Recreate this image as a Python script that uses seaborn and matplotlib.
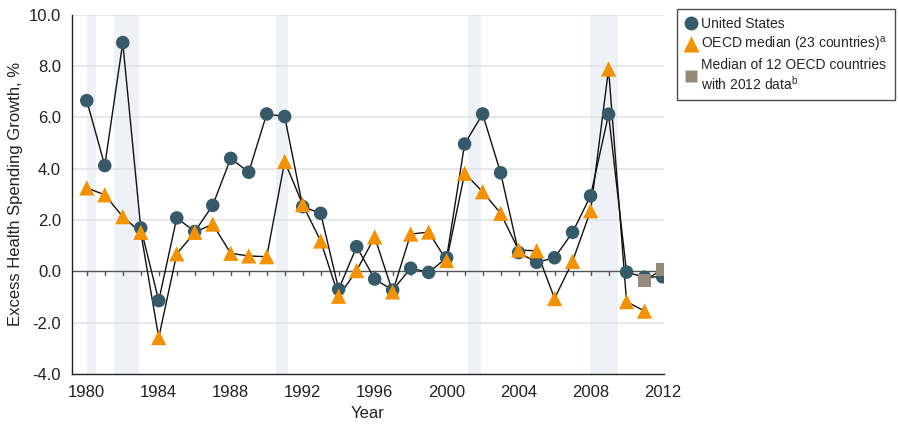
import numpy as np
import pandas as pd
import matplotlib
matplotlib.use("Agg")
import matplotlib.pyplot as plt
from matplotlib.lines import Line2D
import seaborn as sns

years = list(range(1980, 2013))
us = [6.65, 4.12, 8.91, 1.69, -1.14, 2.08, 1.55, 2.57, 4.4, 3.86,
      6.13, 6.03, 2.52, 2.26, -0.7, 0.96, -0.3, -0.73, 0.12, -0.04,
      0.53, 4.96, 6.13, 3.84, 0.73, 0.35, 0.53, 1.52, 2.94, 6.12,
      -0.03, -0.23, -0.21]
oecd_years = list(range(1980, 2012))
oecd = [3.25, 2.98, 2.13, 1.52, -2.58, 0.68, 1.52, 1.84, 0.7, 0.6,
        0.57, 4.28, 2.6, 1.18, -0.97, 0.03, 1.34, -0.8, 1.45, 1.53,
        0.42, 3.82, 3.1, 2.26, 0.83, 0.8, -1.06, 0.39, 2.36, 7.88,
        -1.18, -1.55]
sub_years = [2011, 2012]
sub12 = [-0.36, 0.08]

# recession periods (start, end) in fractional years
recessions = [(1980.0, 1980.5), (1981.5, 1982.9), (1990.5, 1991.2),
              (2001.2, 2001.9), (2007.95, 2009.5)]

c_us = "#365a69"
c_oecd = "#f39200"
c_sub = "#968b7a"

sns.set_style("white")
plt.rcParams["font.family"] = ["Liberation Sans", "DejaVu Sans"]
plt.rcParams["mathtext.default"] = "regular"

df_us = pd.DataFrame({"year": years, "val": us})
df_oecd = pd.DataFrame({"year": oecd_years, "val": oecd})
df_sub = pd.DataFrame({"year": sub_years, "val": sub12})

fig = plt.figure(figsize=(8.98, 4.26), dpi=100)
ax = fig.add_axes([0.0802, 0.122, 0.659, 0.8437])

for s, e in recessions:
    ax.axvspan(s, e, color="#eef1f5", lw=0, zorder=0)
for yv in [-2, 2, 4, 6, 8, 10]:
    ax.axhline(yv, color="#e3e3e3", lw=1.2, zorder=0.5)
ax.axhline(0, color="#555555", lw=1.0, zorder=1)
for yr in years:
    ax.plot([yr, yr], [0, -0.15], color="#555555", lw=1.0, zorder=1)

for d in [df_us, df_oecd, df_sub]:
    sns.lineplot(data=d, x="year", y="val", color="#111111", lw=1.0, ax=ax, zorder=2)

sns.scatterplot(data=df_us, x="year", y="val", marker="o", s=95, color=c_us,
                edgecolor="none", ax=ax, zorder=3)
sns.scatterplot(data=df_oecd, x="year", y="val", marker="^", s=120, color=c_oecd,
                edgecolor="none", ax=ax, zorder=4)
sns.scatterplot(data=df_sub, x="year", y="val", marker="s", s=95, color=c_sub,
                edgecolor="none", ax=ax, zorder=5)

ax.set_xlim(1979.18, 2012.07)
ax.set_ylim(-4, 10)
ax.set_xticks(years)
ax.set_xticklabels([str(y) if y % 4 == 0 else "" for y in years])
ax.set_yticks(np.arange(-4, 10.1, 2))
ax.set_yticklabels([f"{v:.1f}" for v in np.arange(-4, 10.1, 2)])
ax.tick_params(axis="both", direction="out", length=5, width=1, color="#333333",
               labelsize=12, labelcolor="#222222", pad=3)
for side in ["top", "right"]:
    ax.spines[side].set_visible(False)
for side in ["left", "bottom"]:
    ax.spines[side].set_color("#222222")
    ax.spines[side].set_linewidth(1.0)
ax.set_xlabel("Year", fontsize=12, color="#222222", labelpad=4)
ax.set_ylabel("Excess Health Spending Growth, %", fontsize=12, color="#222222", labelpad=4)

handles = [
    Line2D([], [], ls="none", marker="o", ms=10, color=c_us, mec="none"),
    Line2D([], [], ls="none", marker="^", ms=11, color=c_oecd, mec="none"),
    Line2D([], [], ls="none", marker="s", ms=9, color=c_sub, mec="none"),
]
labels = ["United States", "OECD median (23 countries)$^{a}$",
          "Median of 12 OECD countries\nwith 2012 data$^{b}$"]
leg = fig.legend(handles, labels, loc="upper left", bbox_to_anchor=(677 / 898, 1 - 9 / 426),
                 frameon=True, fancybox=False, fontsize=10, handlelength=0.9,
                 handletextpad=0.3, borderpad=0.55, labelspacing=0.3, borderaxespad=0)
leg.get_frame().set_edgecolor("#222222")
leg.get_frame().set_linewidth(1.0)

fig.savefig("out.png", dpi=100)
